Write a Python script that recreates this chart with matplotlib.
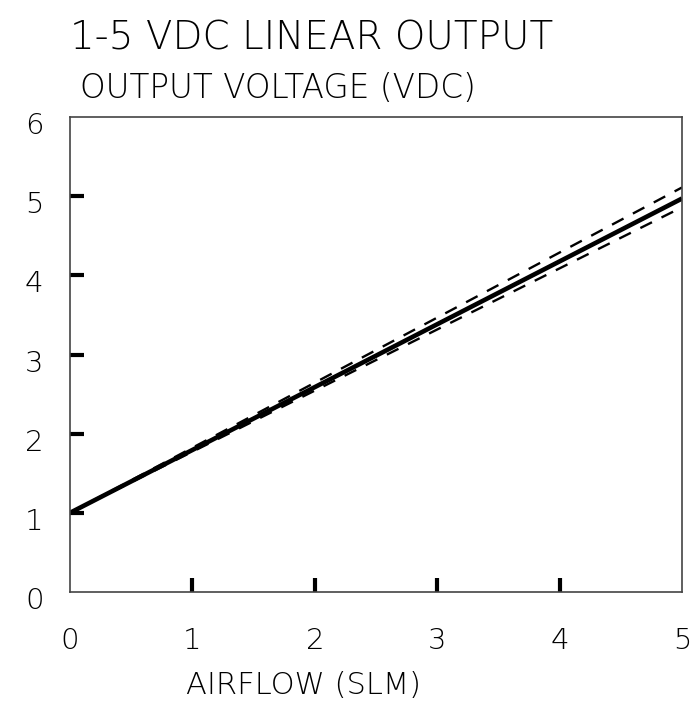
import matplotlib
matplotlib.use('Agg')
import matplotlib.pyplot as plt
import matplotlib.transforms as mtransforms

# data
airflow = [0, 5]
output_nominal = [1.0, 4.97]
output_upper = [1.0, 5.11]
output_lower = [1.0, 4.86]

x_labels = [0, 1, 2, 3, 4, 5]
y_labels = [0, 1, 2, 3, 4, 5, 6]
x_marks = [1, 2, 3, 4]
y_marks = [1, 2, 3, 4, 5]

title = '1-5 VDC LINEAR OUTPUT'
y_title = 'OUTPUT VOLTAGE (VDC)'
x_title = 'AIRFLOW (SLM)'

plt.rcParams['font.family'] = ['DejaVu Sans']
plt.rcParams['font.weight'] = 'ultralight'

W, H = 697, 704
fig = plt.figure(figsize=(W / 100, H / 100), dpi=100)
ax = fig.add_axes([70 / W, (H - 592) / H, 612 / W, 475 / H])

# lines
ax.plot(airflow, output_nominal, color='black', lw=3.3, solid_capstyle='butt')
ax.plot(airflow, output_upper, color='black', lw=1.7, dashes=(5.5, 4.5))
ax.plot(airflow, output_lower, color='black', lw=1.7, dashes=(5.5, 4.5))

ax.set_xlim(0, 5)
ax.set_ylim(0, 6)

# labelled ticks, no marks
ax.set_xticks(x_labels)
ax.set_yticks(y_labels)
ax.tick_params(axis='both', which='major', length=0, labelsize=21)
ax.tick_params(axis='x', which='major', pad=25)
ax.tick_params(axis='y', which='major', pad=19)

# short heavy marks inside the box
ax.xaxis.remove_overlapping_locs = False
ax.yaxis.remove_overlapping_locs = False
ax.set_xticks(x_marks, minor=True)
ax.set_yticks(y_marks, minor=True)
ax.tick_params(axis='both', which='minor', direction='in', length=10,
               width=3, color='black')

# y labels sit a little below their marks
shift = mtransforms.ScaledTranslation(0, -6 / 100, fig.dpi_scale_trans)
for lbl in ax.get_yticklabels():
    lbl.set_transform(lbl.get_transform() + shift)

for s in ax.spines.values():
    s.set_color('#444444')
    s.set_linewidth(1.2)

fig.text(70 / W, 1 - 38 / H, title, fontsize=28, va='center', ha='left')
fig.text(80 / W, 1 - 88 / H, y_title, fontsize=23.5, va='center', ha='left')
fig.text(304 / W, 1 - 686 / H, x_title, fontsize=22, va='center', ha='center')

fig.savefig('out.png', dpi=100)
